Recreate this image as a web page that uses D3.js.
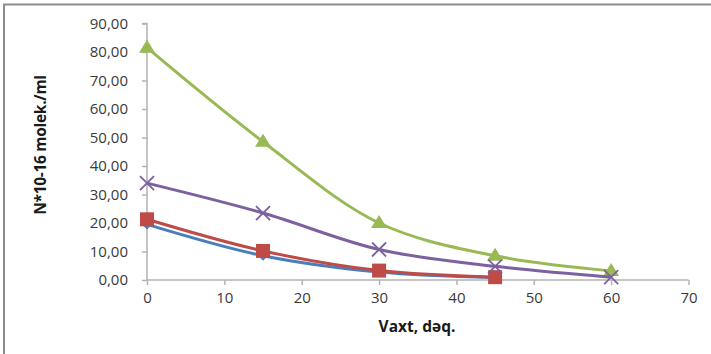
<!DOCTYPE html>
<html>
<head>
<meta charset="utf-8">
<script src="https://cdn.jsdelivr.net/npm/d3@7"></script>
<style>
  body { margin: 0; background: #fff; }
  svg { display: block; }
</style>
</head>
<body>
<svg id="chart" width="711" height="354"></svg>
<script>
// data
var times = [0, 15, 30, 45, 60];
var blueVals = [19.5, 8.5, 2.8, 0.9];
var redVals = [21.3, 10.2, 3.3, 1.0];
var greenVals = [81.5, 48.5, 20.0, 8.5, 3.2];
var purpleVals = [34.0, 23.5, 10.7, 4.8, 1.0];
var xTicks = [0, 10, 20, 30, 40, 50, 60, 70];
var yTicks = [0, 10, 20, 30, 40, 50, 60, 70, 80, 90];

var svg = d3.select('#chart');

// frame (only left and top visible in the crop)
svg.append('path')
  .attr('d', 'M4,354 V4.5 H711')
  .attr('fill', 'none')
  .attr('stroke', '#8c8c8c')
  .attr('stroke-width', 2);

var x = d3.scaleLinear().domain([0, 70]).range([147, 688.5]);
var y = d3.scaleLinear().domain([0, 90]).range([280, 23.5]);

var fmt = function (d) { return d3.format('.2f')(d).replace('.', ','); };

var gx = svg.append('g')
  .attr('transform', 'translate(0,' + y(0) + ')')
  .call(d3.axisBottom(x).tickValues(xTicks).tickSize(5).tickPadding(7));
var gy = svg.append('g')
  .attr('transform', 'translate(' + x(0) + ',0)')
  .call(d3.axisLeft(y).tickValues(yTicks).tickFormat(fmt).tickSize(5).tickPadding(14));

[gx, gy].forEach(function (g) {
  g.select('.domain').attr('stroke', '#b3b3b3').attr('stroke-width', 1.5);
  g.selectAll('.tick line').attr('stroke', '#b3b3b3').attr('stroke-width', 1.5);
  g.selectAll('.tick text')
    .attr('fill', '#3a3a3a')
    .style('font-family', 'Open Sans, sans-serif')
    .style('font-size', '15px');
});
gy.select('.domain').attr('d', 'M-5,' + y(90) + 'H0V' + y(0));
gx.select('.domain').attr('d', 'M' + x(0) + ',0H' + x(70));

// axis titles
svg.append('text')
  .attr('x', 417).attr('y', 332)
  .attr('text-anchor', 'middle')
  .style('font-family', 'Open Sans, sans-serif')
  .style('font-weight', 'bold')
  .style('font-size', '15.5px')
  .attr('fill', '#1a1a1a')
  .text('Vaxt, dəq.');

svg.append('text')
  .attr('transform', 'translate(46,145) rotate(-90)')
  .attr('text-anchor', 'middle')
  .style('font-family', 'Open Sans, sans-serif')
  .style('font-weight', 'bold')
  .style('font-size', '15.5px')
  .style('letter-spacing', '-0.3px')
  .attr('fill', '#1a1a1a')
  .text('N*10-16 molek./ml');

var series = [
  { vals: blueVals, color: '#4a7ebb', marker: 'diamond' },
  { vals: redVals, color: '#be4b48', marker: 'square' },
  { vals: greenVals, color: '#98b954', marker: 'triangle' },
  { vals: purpleVals, color: '#7d60a0', marker: 'x' }
];

var line = d3.line()
  .x(function (d) { return x(d[0]); })
  .y(function (d) { return y(d[1]); })
  .curve(d3.curveCatmullRom.alpha(0.5));

series.forEach(function (s) {
  var pts = s.vals.map(function (v, i) { return [times[i], v]; });
  svg.append('path')
    .datum(pts)
    .attr('d', line)
    .attr('fill', 'none')
    .attr('stroke', s.color)
    .attr('stroke-width', 3);

  var g = svg.append('g');
  pts.forEach(function (p) {
    var cx = x(p[0]), cy = y(p[1]);
    if (s.marker === 'diamond') {
      g.append('path')
        .attr('d', 'M' + cx + ',' + (cy - 5) + 'l5,5l-5,5l-5,-5z')
        .attr('fill', s.color);
    } else if (s.marker === 'square') {
      g.append('rect')
        .attr('x', cx - 7).attr('y', cy - 7)
        .attr('width', 14).attr('height', 14)
        .attr('fill', s.color);
    } else if (s.marker === 'triangle') {
      g.append('path')
        .attr('d', 'M' + cx + ',' + (cy - 8) + 'l8,13h-16z')
        .attr('fill', s.color);
    } else {
      g.append('path')
        .attr('d', 'M' + (cx - 7) + ',' + (cy - 7) + 'l14,14M' + (cx + 7) + ',' + (cy - 7) + 'l-14,14')
        .attr('stroke', s.color)
        .attr('stroke-width', 1.8);
    }
  });
});
</script>
</body>
</html>
